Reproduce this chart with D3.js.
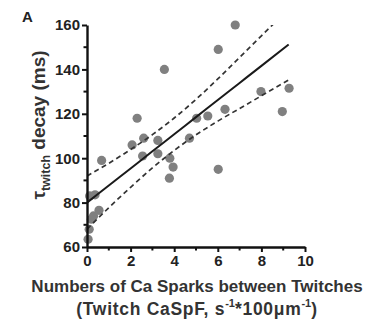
<!DOCTYPE html>
<html>
<head>
<meta charset="utf-8">
<script src="https://cdn.jsdelivr.net/npm/d3@7"></script>
<style>
	body { margin: 0; background: #fff; }
	svg text { font-family: "Liberation Sans", Arial, sans-serif; font-weight: bold; }
</style>
</head>
<body>
<svg id="chart" width="382" height="324"></svg>
<script>
// scatter points (sparks per twitch, tau decay)
var sparkCounts = [0.05, 0.1, 0.2, 0.3, 0.55, 0.12, 0.37, 0.67, 2.07, 2.3, 2.6, 2.55, 3.25, 3.25, 3.55, 3.8, 3.95, 3.78, 4.7, 5.03, 5.54, 6.02, 6.02, 6.33, 6.8, 7.98, 8.96, 9.27];
var decayTimes = [63.5, 68, 72.5, 74, 76.5, 83, 83.5, 99, 106, 118, 109, 101, 108, 102, 140, 100, 96, 91, 109, 118, 119, 149, 95, 122, 160, 130, 121, 131.5];

// regression line and 95% band
var fitX = [0, 1, 2, 3, 4, 5, 6, 7, 8, 9.25];
var fitMid = [80, 87.7, 95.4, 103.1, 110.8, 118.5, 126.2, 133.9, 141.6, 151.2];
var fitUpper = [92, 97.7, 103.9, 110.6, 118.1, 126.5, 135.7, 145.4, 155.1, 167.2];
var fitLower = [68, 77.7, 86.9, 95.6, 103.5, 110.5, 116.7, 122.4, 128.1, 135.2];

var xTicks = [0, 2, 4, 6, 8, 10];
var xMinorTicks = [1, 3, 5, 7, 9];
var yTicks = [60, 80, 100, 120, 140, 160];
var yMinorTicks = [70, 90, 110, 130, 150];

var svg = d3.select("#chart");
var plotLeft = 87, plotRight = 305, plotTop = 25, plotBottom = 247;

var xScale = d3.scaleLinear().domain([0, 10]).range([plotLeft, plotRight]);
var yScale = d3.scaleLinear().domain([60, 160]).range([plotBottom, plotTop]);

// clip so the band stops at the top of the plot
svg.append("clipPath").attr("id", "plotClip")
	.append("rect")
	.attr("x", plotLeft).attr("y", plotTop)
	.attr("width", plotRight - plotLeft).attr("height", plotBottom - plotTop);

// points
var points = sparkCounts.map(function(d, i) { return { x: d, y: decayTimes[i] }; });
svg.append("g")
	.selectAll("circle")
	.data(points)
	.enter()
	.append("circle")
	.attr("cx", function(d) { return xScale(d.x); })
	.attr("cy", function(d) { return yScale(d.y); })
	.attr("r", 4.6)
	.style("fill", "#808080");

// fit lines
var line = function(values) {
	return d3.line()
		.x(function(d, i) { return xScale(fitX[i]); })
		.y(function(d) { return yScale(d); })
		.curve(d3.curveMonotoneX)(values);
};
var fitGroup = svg.append("g").attr("clip-path", "url(#plotClip)");
fitGroup.append("path")
	.attr("d", line(fitUpper))
	.style("fill", "none").style("stroke", "#333")
	.style("stroke-width", 1.7).style("stroke-dasharray", "5,3.5");
fitGroup.append("path")
	.attr("d", line(fitLower))
	.style("fill", "none").style("stroke", "#333")
	.style("stroke-width", 1.7).style("stroke-dasharray", "5,3.5");
fitGroup.append("path")
	.attr("d", line(fitMid))
	.style("fill", "none").style("stroke", "#1a1a1a")
	.style("stroke-width", 2);

// axes
var xAxis = d3.axisBottom(xScale).tickValues(xTicks).tickSize(5).tickSizeOuter(0).tickPadding(3);
var yAxis = d3.axisLeft(yScale).tickValues(yTicks).tickSize(5).tickSizeOuter(0).tickPadding(2);

var gx = svg.append("g")
	.attr("transform", "translate(0," + plotBottom + ")")
	.call(xAxis);
var gy = svg.append("g")
	.attr("transform", "translate(" + plotLeft + ",0)")
	.call(yAxis);

// minor ticks
gx.selectAll(".minor")
	.data(xMinorTicks)
	.enter()
	.append("line")
	.attr("x1", function(d) { return xScale(d); })
	.attr("x2", function(d) { return xScale(d); })
	.attr("y1", 0).attr("y2", 3.5);
gy.selectAll(".minor")
	.data(yMinorTicks)
	.enter()
	.append("line")
	.attr("y1", function(d) { return yScale(d); })
	.attr("y2", function(d) { return yScale(d); })
	.attr("x1", 0).attr("x2", -3.5);

[gx, gy].forEach(function(g) {
	g.selectAll("path").style("stroke", "#111").style("stroke-width", 2.4);
	g.selectAll("line").style("stroke", "#111").style("stroke-width", 2);
	g.selectAll("text").style("font-size", "15px").style("fill", "#222")
		.style("font-family", "\"Liberation Sans\", Arial, sans-serif");
});

// y axis title
var yTitle = svg.append("text")
	.attr("transform", "translate(45,125) rotate(-90)")
	.style("text-anchor", "middle")
	.style("font-size", "19px")
	.style("fill", "#333");
yTitle.append("tspan").text("τ");
yTitle.append("tspan").attr("dy", 5).style("font-size", "12.5px").text("twitch");
yTitle.append("tspan").attr("dy", -5).text(" decay (ms)");

// x axis title
svg.append("text")
	.attr("x", 197).attr("y", 292)
	.style("text-anchor", "middle")
	.style("font-size", "17px")
	.style("fill", "#333")
	.text("Numbers of Ca Sparks between Twitches");

var xTitle2 = svg.append("text")
	.attr("x", 197).attr("y", 315)
	.style("text-anchor", "middle")
	.style("font-size", "17.5px")
	.style("letter-spacing", "0.7px")
	.style("fill", "#333");
xTitle2.append("tspan").text("(Twitch CaSpF, s");
xTitle2.append("tspan").attr("dy", -8).style("font-size", "11px").style("letter-spacing", "0px").text("-1");
xTitle2.append("tspan").attr("dy", 8).text("*100μm");
xTitle2.append("tspan").attr("dy", -8).style("font-size", "11px").style("letter-spacing", "0px").text("-1");
xTitle2.append("tspan").attr("dy", 8).text(")");

// panel letter
svg.append("text")
	.attr("x", 22).attr("y", 22)
	.style("font-size", "15px")
	.style("fill", "#222")
	.text("A");
</script>
</body>
</html>
